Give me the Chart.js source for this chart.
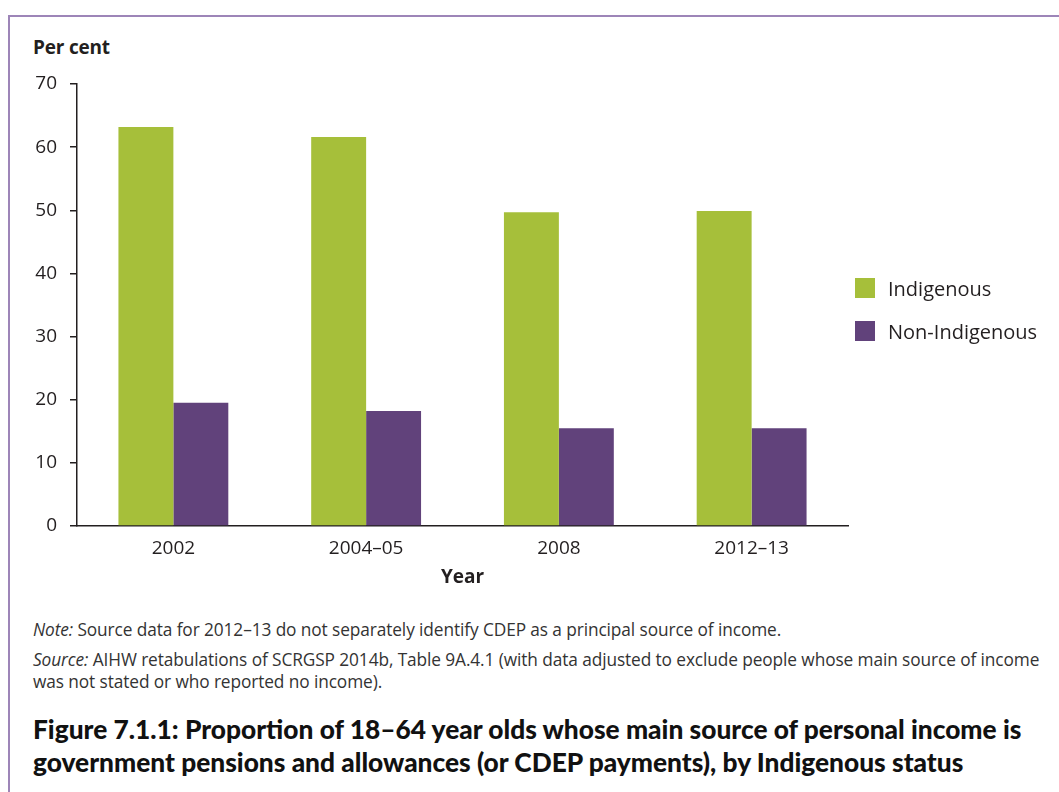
<!DOCTYPE html>
<html>
<head>
<meta charset="utf-8">
<script src="https://cdn.jsdelivr.net/npm/chart.js@4"></script>
<style>
  body { margin: 0; width: 1059px; height: 792px; background: #fff; position: relative; overflow: hidden; font-family: 'Open Sans', sans-serif; color: #231f20; }
  .frame { position: absolute; left: 8px; top: 15px; right: -4px; bottom: -4px; border-top: 2px solid #9d85b8; border-left: 2px solid #9d85b8; }
  #wrap { position: absolute; left: 0; top: 0; width: 1059px; height: 600px; }
  .ylab { position: absolute; left: 33px; top: 34px; font-weight: bold; font-size: 19px; letter-spacing: -0.2px; }
  .legend { position: absolute; left: 855px; top: 278px; font-size: 20px; }
  .legend div { display: flex; align-items: center; height: 20px; margin-bottom: 23px; }
  .legend span.box { width: 20px; height: 20px; margin-right: 13px; }
  .notes { position: absolute; left: 33px; top: 619px; font-size: 17.3px; line-height: 22px; color: #333; letter-spacing: -0.1px; }
  .notes p { margin: 0 0 8px 0; }
  .caption { position: absolute; left: 33px; top: 713px; font-family: Lato, sans-serif; font-size: 26.3px; line-height: 33px; font-weight: 900; color: #111; }
</style>
</head>
<body>
<div class="frame"></div>
<div class="ylab">Per cent</div>
<div id="wrap"><canvas id="myChart"></canvas></div>
<div class="legend" id="legend"></div>
<div class="notes">
  <p><i>Note:</i> Source data for 2012–13 do not separately identify CDEP as a principal source of income.</p>
  <p><i>Source:</i> AIHW retabulations of SCRGSP 2014b, Table 9A.4.1 (with data adjusted to exclude people whose main source of income<br>was not stated or who reported no income).</p>
</div>
<div class="caption">Figure 7.1.1: Proportion of 18–64 year olds whose main source of personal income is<br>government pensions and allowances (or CDEP payments), by Indigenous status</div>
<script>
const years = ['2002', '2004–05', '2008', '2012–13'];
const indigenous = [63.2, 61.6, 49.7, 49.9];
const nonIndigenous = [19.5, 18.2, 15.5, 15.5];
const seriesNames = ['Indigenous', 'Non-Indigenous'];
const seriesColors = ['#a6bf3a', '#61427b'];
const yTicks = [0, 10, 20, 30, 40, 50, 60, 70];

const tickFont = { family: 'Open Sans', size: 19 };

const datasets = [indigenous, nonIndigenous].map((d, i) => ({
  label: seriesNames[i],
  data: d,
  backgroundColor: seriesColors[i],
  borderWidth: 0,
  barPercentage: 1,
  categoryPercentage: 0.57,
}));

document.getElementById('legend').innerHTML = datasets
  .map(ds => `<div><span class="box" style="background:${ds.backgroundColor}"></span>${ds.label}</div>`)
  .join('');

const ctx = document.getElementById('myChart').getContext('2d');
new Chart(ctx, {
  type: 'bar',
  data: { labels: years, datasets },
  options: {
    responsive: true,
    maintainAspectRatio: false,
    animation: false,
    layout: { padding: { left: 20, right: 211, top: 84, bottom: 0 } },
    plugins: { legend: { display: false }, tooltip: { enabled: false } },
    scales: {
      x: {
        grid: { display: false, drawTicks: false },
        border: { display: true, color: '#231f20', width: 1.5 },
        ticks: { color: '#231f20', font: tickFont, padding: 11 },
        title: { display: true, text: 'Year', color: '#231f20', font: { family: 'Open Sans', size: 19, weight: 'bold' }, padding: { top: 0, bottom: 11 } },
        afterFit: s => { s.height = 74; },
      },
      y: {
        min: 0,
        max: 70,
        afterBuildTicks: s => { s.ticks = yTicks.map(v => ({ value: v })); },
        grid: { drawOnChartArea: false, drawTicks: true, tickLength: 7, color: '#231f20', lineWidth: 1.5 },
        border: { display: true, color: '#231f20', width: 1.5 },
        ticks: { color: '#231f20', font: tickFont, padding: 13 },
        afterFit: s => { s.width = 57; },
      },
    },
  },
});
</script>
</body>
</html>
